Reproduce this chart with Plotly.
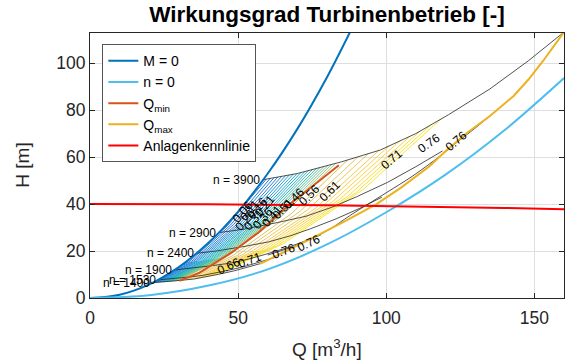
import plotly.graph_objects as go
from plotly.colors import sample_colorscale

# ---------------- data ----------------
# M = 0 curve (runaway)
q_m0 = [0, 10, 20, 30, 40, 50, 60, 70, 80, 87.7]
h_m0 = [0, 1.4, 5.8, 13.2, 23.5, 36.8, 53.0, 72.0, 94.0, 113.0]
# n = 0 curve
q_n0 = [0, 20, 40, 60, 80, 100, 120, 140, 160]
h_n0 = [0, 1.2, 5.3, 12.2, 22.8, 36.5, 52.5, 71.5, 93.6]
# Q_min
q_qmin = [30.2, 37, 48, 57, 67, 75, 84]
h_qmin = [7.3, 10.8, 19.5, 28.0, 39.5, 47.5, 56.5]
# Q_max
q_qmax = [57.4, 64, 75, 86.6, 96.7, 105, 114.5, 120, 127, 135, 143, 148, 153, 160]
h_qmax = [14.5, 18.5, 25.5, 33.0, 40.0, 47.0, 56.0, 62.5, 70.0, 77.5, 86.0, 93.0, 101.0, 113.2]
# Anlagenkennlinie
q_anl = [0, 40, 80, 100, 120, 140, 160]
h_anl = [40.0, 39.9, 39.45, 39.15, 38.75, 38.3, 37.8]

# constant speed lines
speed_names = ["n = 3900", "n = 2900", "n = 2400", "n = 1900", "n = 1530", "n = 1400"]
speed_q = [
    [58.2, 70, 85, 98, 110, 121, 135, 148, 160],
    [43.3, 52, 63.2, 72.9, 81.8, 90, 100.4, 110, 119],
    [35.8, 43.1, 52.3, 60.3, 67.7, 74.5, 83.1, 91.1, 98.5],
    [28.4, 34.1, 41.4, 47.7, 53.6, 59, 65.8, 72.1, 78],
    [22.8, 27.5, 33.3, 38.4, 43.2, 47.5, 53, 58.1, 62.8],
    [20.9, 25.1, 30.5, 35.2, 39.5, 43.4, 48.5, 53.1, 57.4],
]
speed_h = [
    [50.3, 53, 58, 63, 70, 78, 89, 101, 113.2],
    [27.8, 29.3, 32.1, 34.8, 38.7, 43.1, 49.2, 55.9, 62.6],
    [19.0, 20.1, 22.0, 23.9, 26.5, 29.5, 33.7, 38.2, 42.9],
    [11.9, 12.6, 13.8, 14.9, 16.6, 18.5, 21.1, 24.0, 26.9],
    [7.7, 8.2, 8.9, 9.7, 10.8, 12.0, 13.7, 15.5, 17.4],
    [6.5, 6.8, 7.5, 8.1, 9.0, 10.1, 11.5, 13.0, 14.6],
]

# black labelled efficiency contour (eta = 0.76) near Q_max
c76_q = [60, 70, 80, 88, 100, 109, 118, 124, 130, 135]
c76_h = [18.3, 22.6, 28.6, 35.3, 44.8, 52.0, 60.3, 66.4, 72.3, 77.5]

# efficiency contour lines (hatching)
hatch_levels = [0.09, 0.112, 0.134, 0.156, 0.178, 0.20, 0.222, 0.244, 0.266, 0.288,
                0.31, 0.332, 0.354, 0.376, 0.398, 0.42, 0.442, 0.464, 0.486,
                0.56, 0.58, 0.60, 0.62, 0.64, 0.66, 0.69, 0.72, 0.75, 0.78]
hatch_q = [
    [21.4, 32.7, 46.4, 59.5], [21.9, 33.4, 47.4, 60.8], [22.4, 34.2, 48.4, 62.1],
    [22.8, 34.9, 49.5, 63.4], [23.3, 35.6, 50.5, 64.7], [23.8, 36.3, 51.5, 66.0],
    [24.2, 37.0, 52.5, 67.3], [24.7, 37.7, 53.5, 68.6], [25.2, 38.4, 54.5, 69.9],
    [25.6, 39.2, 55.5, 71.2], [26.1, 39.9, 56.6, 72.5], [26.6, 40.6, 57.6, 73.8],
    [27.0, 41.3, 58.6, 75.1], [27.5, 42.0, 59.6, 76.4], [28.0, 42.7, 60.6, 77.7],
    [28.4, 43.5, 61.6, 79.0], [28.9, 44.2, 62.6, 80.3], [29.4, 44.9, 63.6, 81.6],
    [29.8, 45.6, 64.7, 82.9],
    [31.3, 47.9, 67.9, 87.0], [32.6, 49.8, 70.6, 90.5], [33.8, 51.7, 73.3, 94.0],
    [35.1, 53.6, 76.1, 97.5], [36.4, 55.6, 78.8, 101.0], [37.6, 57.5, 81.5, 104.5],
    [38.9, 59.4, 84.2, 108.0], [40.1, 61.3, 87.0, 111.5], [41.4, 63.3, 89.7, 115.0],
    [42.7, 65.2, 92.4, 118.5],
]
hatch_h = [
    [6.6, 15.3, 30.8, 50.6], [6.6, 15.4, 31.0, 50.9], [6.6, 15.5, 31.2, 51.2],
    [6.7, 15.6, 31.3, 51.5], [6.7, 15.7, 31.5, 51.8], [6.8, 15.8, 31.7, 52.1],
    [6.8, 15.9, 31.9, 52.4], [6.8, 15.9, 32.1, 52.7], [6.9, 16.0, 32.2, 53.0],
    [6.9, 16.2, 32.5, 53.4], [7.0, 16.3, 32.7, 53.8], [7.0, 16.4, 33.0, 54.3],
    [7.1, 16.5, 33.3, 54.7], [7.1, 16.7, 33.5, 55.1], [7.2, 16.8, 33.8, 55.6],
    [7.3, 16.9, 34.1, 56.0], [7.3, 17.1, 34.3, 56.4], [7.4, 17.2, 34.6, 56.9],
    [7.4, 17.3, 34.9, 57.3],
    [7.6, 17.8, 35.8, 58.8], [7.8, 18.2, 36.6, 60.1], [8.0, 18.6, 37.4, 61.5],
    [8.1, 19.0, 38.2, 62.8], [8.4, 19.6, 39.4, 64.8], [8.7, 20.2, 40.6, 66.8],
    [8.9, 20.8, 41.9, 68.8], [9.2, 21.5, 43.3, 71.1], [9.5, 22.3, 44.8, 73.6],
    [9.9, 23.1, 46.4, 76.2],
]

# contour labels
clabel_text = ["0.71", "0.76", "0.76", "0.66", "0.71", "0.76", "0.76",
               "0.06", "0.11", "0.16", "0.21", "0.26", "0.31", "0.36", "0.41",
               "0.51", "0.46", "0.56", "0.61"]
clabel_q = [102, 114.5, 123.6, 47, 54, 65.5, 74,
            51.5, 54, 56.5, 59, 52.5, 55.5, 58.5, 61.5, 65, 69, 74, 81]
clabel_h = [59, 66, 67, 13.5, 16, 19.8, 23.3,
            36.5, 37.5, 38.5, 39.2, 33, 33.5, 34, 35, 38, 42.5, 44, 45.5]
clabel_angle = [-40, -35, -40, -25, -20, -20, -25,
                -50, -50, -50, -50, -50, -50, -50, -50, -45, -45, -45, -45]

x_ticks = [0, 50, 100, 150]
y_ticks = [0, 20, 40, 60, 80, 100]

# ---------------- figure ----------------
parula = [[0.0, "#352a87"], [0.1, "#0f5cdd"], [0.2, "#1481d6"], [0.3, "#06a4ca"],
          [0.4, "#2eb7a4"], [0.5, "#87bf77"], [0.6, "#d1bb59"], [0.7, "#fec832"],
          [0.8, "#f5dd21"], [0.9, "#f2ec17"], [1.0, "#f9fb0e"]]
cmax = 0.92
FONT = "Liberation Sans, Arial, Helvetica, sans-serif"

fig = go.Figure()

for lev, qs, hs in zip(hatch_levels, hatch_q, hatch_h):
    col = sample_colorscale(parula, [min(lev / cmax, 1.0)])[0]
    fig.add_trace(go.Scatter(x=qs, y=hs, mode="lines", line=dict(color=col, width=0.9),
                             showlegend=False, hoverinfo="skip"))

for name, qs, hs in zip(speed_names, speed_q, speed_h):
    fig.add_trace(go.Scatter(x=qs, y=hs, mode="lines", line=dict(color="#262626", width=0.8),
                             showlegend=False, hoverinfo="skip"))
fig.add_trace(go.Scatter(x=c76_q, y=c76_h, mode="lines", line=dict(color="#262626", width=0.8),
                         showlegend=False, hoverinfo="skip", line_shape="spline"))

fig.add_trace(go.Scatter(x=q_m0, y=h_m0, mode="lines", name="M = 0",
                         line=dict(color="#0072BD", width=2), line_shape="spline"))
fig.add_trace(go.Scatter(x=q_n0, y=h_n0, mode="lines", name="n = 0",
                         line=dict(color="#4DBEEE", width=2), line_shape="spline"))
fig.add_trace(go.Scatter(x=q_qmin, y=h_qmin, mode="lines", name="Q<sub>min</sub>",
                         line=dict(color="#D95319", width=2)))
fig.add_trace(go.Scatter(x=q_qmax, y=h_qmax, mode="lines", name="Q<sub>max</sub>",
                         line=dict(color="#EDB120", width=2)))
fig.add_trace(go.Scatter(x=q_anl, y=h_anl, mode="lines", name="Anlagenkennlinie",
                         line=dict(color="#FF0000", width=2)))

annotations = []
for name, qs, hs in zip(speed_names, speed_q, speed_h):
    annotations.append(dict(x=qs[0], y=hs[0], xref="x", yref="y", text=name,
                            showarrow=False, xanchor="right", yanchor="middle",
                            font=dict(family=FONT, size=12, color="#000000")))
for t, q, h, a in zip(clabel_text, clabel_q, clabel_h, clabel_angle):
    annotations.append(dict(x=q, y=h, xref="x", yref="y", text=t, showarrow=False,
                            textangle=a, font=dict(family=FONT, size=12, color="#000000")))
annotations.append(dict(x=0.5, y=-0.19, xref="paper", yref="paper",
                        text="Q [m<sup>3</sup>/h]", showarrow=False, yanchor="middle",
                        font=dict(family=FONT, size=19, color="#262626")))
annotations.append(dict(x=-0.143, y=0.5, xref="paper", yref="paper", text="H [m]",
                        showarrow=False, textangle=-90, xanchor="center",
                        font=dict(family=FONT, size=19, color="#262626")))

axis_common = dict(showgrid=True, gridcolor="#dfdfdf", gridwidth=1, zeroline=False,
                   showline=True, linecolor="#262626", linewidth=1, mirror="ticks",
                   ticks="inside", ticklen=5, tickcolor="#262626",
                   tickfont=dict(family=FONT, size=17.5, color="#262626"))

fig.update_layout(
    width=567, height=362,
    margin=dict(l=90, r=3, t=33, b=64),
    paper_bgcolor="white", plot_bgcolor="white",
    title=dict(text="<b>Wirkungsgrad Turbinenbetrieb [-]</b>", x=0.5, xref="paper",
               y=0.962, yref="container", yanchor="middle",
               font=dict(family=FONT, size=22.5, color="#000000")),
    xaxis=dict(range=[0, 160], tickvals=x_ticks, ticklabelstandoff=4, **axis_common),
    yaxis=dict(range=[0, 112.8], tickvals=y_ticks, **axis_common),
    legend=dict(x=0.026, y=0.958, xanchor="left", yanchor="top",
                bgcolor="white", bordercolor="#555555", borderwidth=1,
                font=dict(family=FONT, size=14, color="#000000"),
                tracegroupgap=0, itemwidth=30),
    annotations=annotations,
)

fig.write_html("out.html", config={"displayModeBar": False},
               post_script="document.body.style.margin='0px';document.body.style.overflow='hidden';")
